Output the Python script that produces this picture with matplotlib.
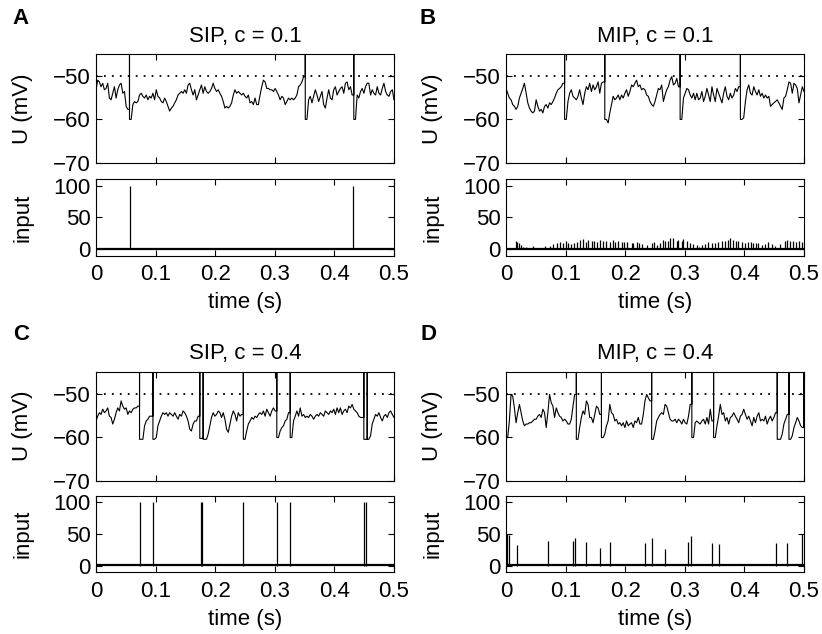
import numpy as np
import matplotlib.pyplot as plt

plt.rcParams['font.family'] = ['Liberation Sans', 'DejaVu Sans']
plt.rcParams['font.size'] = 16

SPIKE = 100  # marks a spike sample (clipped by the axis)

# membrane potential U (mV), evenly sampled over 0 - 0.5 s
u_sip_01 = [
    -53.2, -51.0, -51.4, -52.5, -51.7, -53.2, -52.9, -51.7, -55.1, -55.5,
    -54.0, -52.5, -55.1, -53.2, -52.1, -51.7, -54.0, -53.6, -57.0, -57.7,
    100, -60.0, -56.6, -55.9, -56.2, -55.9, -54.4, -54.0, -54.7, -55.1,
    -54.4, -55.5, -54.7, -55.1, -54.0, -55.5, -53.2, -54.7, -55.1, -55.9,
    -56.2, -55.1, -55.9, -57.0, -58.1, -57.4, -57.0, -56.2, -55.5, -54.4,
    -54.0, -53.6, -54.0, -53.2, -54.0, -52.1, -51.7, -53.2, -54.4, -53.2,
    -55.5, -54.4, -53.2, -52.1, -54.0, -52.5, -53.6, -54.0, -53.6, -52.9,
    -51.7, -52.9, -53.6, -53.2, -54.0, -54.7, -55.9, -57.4, -57.0, -57.4,
    -57.0, -56.2, -54.4, -53.2, -54.0, -53.6, -54.0, -54.4, -54.0, -54.7,
    -55.1, -54.4, -56.2, -55.9, -56.6, -55.1, -56.6, -56.6, -54.4, -52.5,
    -51.0, -51.4, -52.9, -52.9, -53.2, -53.2, -53.6, -52.9, -53.6, -54.4,
    -55.5, -54.7, -55.1, -56.6, -55.9, -55.1, -55.5, -55.1, -55.5, -55.1,
    -54.4, -52.5, -52.1, -51.4, -50.2, 100, -60.0, -55.5, -54.7, -56.2,
    -54.7, -53.2, -54.4, -55.9, -54.7, -53.6, -56.6, -57.4, -55.1, -53.2,
    -55.1, -55.5, -53.2, -52.5, -54.4, -53.6, -52.9, -52.5, -54.0, -51.7,
    -51.4, -53.2, -52.5, -54.4, 100, -60.0, -54.4, -55.1, -53.6, -52.9,
    -54.0, -52.5, -51.7, -51.7, -54.4, -53.2, -54.0, -54.4, -52.5, -54.0,
    -54.4, -52.9, -51.7, -53.6, -54.4, -54.7, -53.6, -53.2, -55.5,
]

u_mip_01 = [
    -52.9, -54.0, -55.1, -55.5, -56.6, -57.0, -57.7, -57.0, -55.1, -54.0,
    -52.9, -51.7, -54.0, -56.2, -57.4, -58.1, -58.5, -58.1, -55.5, -57.0,
    -58.1, -57.7, -58.5, -57.0, -56.6, -57.4, -56.2, -56.6, -55.9, -55.1,
    -54.0, -53.2, -52.9, -52.5, -51.7, 100, -60.0, -55.9, -54.0, -53.2,
    -54.7, -55.1, -55.5, -54.7, -53.2, -55.1, -56.6, -54.0, -52.5, -53.2,
    -51.7, -53.6, -52.1, -53.2, -52.5, -51.4, -54.0, -51.7, -51.4, 100,
    -60.0, -60.8, -58.5, -56.6, -54.7, -55.5, -55.1, -54.4, -55.5, -54.4,
    -55.1, -54.0, -53.2, -54.7, -53.6, -52.1, -52.5, -51.7, -51.0, -52.5,
    -52.1, -53.2, -52.9, -53.2, -54.4, -54.7, -55.9, -56.6, -57.0, -55.9,
    -54.4, -52.9, -53.2, -52.1, -55.9, -54.4, -53.2, -52.5, -51.0, -50.2,
    -52.1, -51.7, -50.6, -52.5, 100, -60.0, -55.1, -54.0, -52.9, -53.2,
    -54.4, -55.1, -54.0, -55.5, -54.0, -55.5, -55.1, -53.6, -55.9, -54.7,
    -52.9, -54.4, -55.9, -52.5, -54.4, -55.9, -52.9, -54.0, -55.1, -56.2,
    -54.0, -52.5, -54.7, -55.5, -54.0, -55.1, -54.4, -52.9, -53.6, -52.5,
    100, -60.0, -59.6, -55.9, -53.2, -52.1, -54.0, -54.4, -52.5, -53.6,
    -54.4, -53.2, -54.7, -54.0, -55.1, -54.4, -55.1, -54.7, -57.0, -56.6,
    -56.2, -55.9, -55.5, -56.2, -57.0, -57.7, -55.1, -54.7, -53.2, -51.4,
    -51.7, -54.0, -51.7, -52.1, -52.9, -56.2, -54.4, -52.5, -53.6,
]

u_sip_04 = [
    -56.3, -55.2, -54.4, -54.8, -53.6, -54.4, -54.0, -53.3, -55.2, -55.5,
    -57.0, -55.9, -54.4, -53.3, -54.0, -51.7, -52.9, -53.6, -53.3, -54.8,
    -54.0, -54.4, -53.6, -53.3, -53.3, -52.9, 100, -60.5, -60.5, -57.4,
    -56.3, -55.9, -55.2, -55.2, 100, -60.5, -60.1, -57.4, -56.3, -55.2,
    -54.4, -54.8, -54.4, -55.2, -54.4, -54.8, -55.2, -54.4, -55.2, -55.9,
    -54.8, -55.2, -54.0, -54.4, -55.2, -56.3, -58.2, -58.6, -57.0, -56.3,
    -56.3, -55.2, 100, -60.3, 100, -60.5, -60.5, -59.3, -57.4, -55.5,
    -54.4, -55.2, -54.8, -54.0, -54.4, -55.5, -54.4, -55.9, -58.2, -58.9,
    -57.0, -55.2, -54.0, -54.8, -56.3, -54.4, -55.2, -54.8, 100, -60.5,
    -58.6, -57.0, -56.3, -55.5, -55.9, -55.2, -55.5, -54.8, -54.4, -54.8,
    -54.0, -55.2, -53.6, -54.4, -55.2, -54.0, -53.3, -54.0, 100, -60.1,
    -58.6, -57.8, -57.4, -56.3, -55.9, -54.4, 100, -60.1, -56.3, -55.2,
    -54.0, -55.2, -53.3, -55.2, -54.8, -55.5, -55.2, -55.5, -54.8, -55.2,
    -55.9, -55.2, -54.8, -55.2, -54.4, -54.8, -55.2, -54.0, -54.4, -54.8,
    -54.0, -54.4, -53.6, -54.8, -53.3, -54.4, -53.3, -54.8, -54.0, -53.6,
    -54.4, -52.9, -53.3, -52.5, -53.6, -54.0, -54.4, -55.2, -55.5, -55.5,
    100, -60.5, 100, -60.5, -59.7, -57.0, -55.9, -54.8, -55.2, -54.4,
    -55.5, -56.3, -55.2, -54.8, -55.5, -54.4, -54.0, -54.8, -55.5,
]

u_mip_04 = [
    100, -60.1, -56.3, -50.2, -50.6, -53.3, -56.7, -54.4, -52.5, -54.4,
    -56.3, -57.4, -57.0, -57.0, -56.7, -56.7, -56.3, -55.9, -55.9, -55.2,
    -54.8, -55.5, -53.6, -54.4, -57.8, -54.4, -50.2, -52.1, -52.9, -55.5,
    -53.3, -54.4, -55.2, -55.5, -56.3, -55.9, -56.3, -57.0, -57.0, -55.9,
    -52.9, -50.2, 100, -60.5, -57.8, -55.5, -54.0, -54.8, -51.7, -52.5,
    -55.5, -55.5, -56.7, -54.8, -52.9, -53.3, -54.8, 100, -60.1, -59.3,
    -57.4, -56.3, -52.5, -54.4, -54.8, -56.3, -55.9, -57.0, -56.7, -57.4,
    -56.7, -57.8, -56.3, -57.4, -57.0, -56.7, -57.8, -56.3, -56.7, -55.5,
    -57.0, -57.0, -54.8, -51.7, -50.2, -51.0, -51.7, 100, -60.5, -58.6,
    -56.3, -55.5, -54.8, -54.4, -54.8, -52.5, -52.9, -54.4, -55.9, -56.3,
    -56.3, -55.9, -56.7, -55.9, -56.3, -57.0, -55.9, -56.7, -57.0, -55.2,
    -52.5, 100, -60.1, -56.7, -56.3, -56.7, -57.0, -56.3, -55.9, -57.0,
    -55.5, -57.0, -53.6, -56.3, 100, -60.1, -57.4, -55.2, -52.5, -54.8,
    -54.4, -56.3, -55.5, -57.0, -55.5, -55.2, -54.4, -55.2, -55.9, -56.7,
    -55.2, -54.8, -53.6, -54.8, -55.9, -55.2, -56.3, -57.4, -55.5, -56.7,
    -55.2, -54.4, -56.3, -55.9, -56.3, -55.2, -57.0, -55.9, -55.2, -56.3,
    -55.5, -54.4, 100, -60.5, -60.5, -59.3, -57.0, -55.9, -54.8, 100,
    -60.5, -59.7, -57.8, -56.7, -55.5, -56.3, -57.4, -57.8, 100,
]

threshold = -50

# input events: time (s) and size
in_t_sip_01 = [0.057, 0.4306]
in_h_sip_01 = [100, 100]

in_t_mip_01 = [
    0.0168, 0.0190, 0.0213, 0.0246, 0.0280, 0.0336, 0.0459, 0.0654, 0.0738, 0.0794,
    0.0861, 0.0906, 0.0951, 0.1007, 0.1046, 0.1085, 0.1141, 0.1186, 0.1242, 0.1298,
    0.1342, 0.1382, 0.1437, 0.1482, 0.1532, 0.1577, 0.1622, 0.1678, 0.1745, 0.1790,
    0.1829, 0.1885, 0.1941, 0.1980, 0.2025, 0.2109, 0.2137, 0.2193, 0.2237, 0.2276,
    0.2360, 0.2444, 0.2483, 0.2528, 0.2584, 0.2629, 0.2668, 0.2713, 0.2752, 0.2808,
    0.2864, 0.2892, 0.2947, 0.2975, 0.3031, 0.3087, 0.3143, 0.3199, 0.3238, 0.3283,
    0.3339, 0.3395, 0.3451, 0.3507, 0.3563, 0.3619, 0.3675, 0.3719, 0.3758, 0.3814,
    0.3859, 0.3898, 0.3954, 0.4010, 0.4066, 0.4105, 0.4150, 0.4195, 0.4234, 0.4290,
    0.4346, 0.4402, 0.4457, 0.4513, 0.4597, 0.4681, 0.4720, 0.4765, 0.4821, 0.4866,
    0.4922, 0.4961,
]
in_h_mip_01 = [
    13, 12, 10.5, 6.8, 4.2, 3.1, 5.2, 5.2, 5.2, 8.4,
    9.4, 12, 10.5, 13.6, 9.4, 8.4, 10.5, 12, 14.7, 15.7,
    12, 14.7, 13.6, 13.6, 12, 14.7, 13.6, 13, 12, 14.7,
    12, 13, 12, 12, 12, 10.5, 10.5, 12, 10.5, 8.4,
    6.8, 9.4, 12, 6.8, 9.4, 14.7, 13.6, 13.6, 17.3, 17.3,
    13, 14.7, 13.6, 15.7, 13.6, 9.4, 8.4, 6.8, 4.2, 6.8,
    8.4, 12, 10.5, 10.5, 12, 13.6, 13.6, 14.7, 17.3, 14.7,
    13.6, 13.6, 12, 10.5, 12, 12, 10.5, 9.4, 9.4, 6.8,
    8.4, 12, 8.4, 5.2, 8.4, 13.6, 14.7, 13.6, 13.6, 12,
    13.6, 12,
]

in_t_sip_04 = [0.0738, 0.0951, 0.1756, 0.1779, 0.2461, 0.3031, 0.3255, 0.4497, 0.4530]
in_h_sip_04 = [100, 100, 100, 100, 100, 100, 100, 100, 100]

in_t_mip_04 = [0.0011, 0.0056, 0.0179, 0.0710, 0.1119, 0.1158, 0.1342, 0.1577, 0.1745, 0.2332,
               0.2444, 0.2668, 0.3059, 0.3098, 0.3456, 0.3568, 0.4530, 0.4709, 0.4966]
in_h_mip_04 = [50, 49, 33, 40, 40, 43.5, 38, 28.5, 37.6, 35.5,
               43.5, 27, 38, 47, 35.5, 34, 35.5, 35.5, 50]

input_baseline = 1

panels = [
    ('A', 'SIP, c = 0.1', u_sip_01, in_t_sip_01, in_h_sip_01, 0, 0),
    ('B', 'MIP, c = 0.1', u_mip_01, in_t_mip_01, in_h_mip_01, 1, 0),
    ('C', 'SIP, c = 0.4', u_sip_04, in_t_sip_04, in_h_sip_04, 0, 1),
    ('D', 'MIP, c = 0.4', u_mip_04, in_t_mip_04, in_h_mip_04, 1, 1),
]

lefts = [0.1168, 0.6156]
u_bottoms = [0.7429, 0.2418]
in_bottoms = [0.5967, 0.0972]
letter_x = [0.0255, 0.5207]
letter_y = [0.9711, 0.472]
w = 0.3625


def trace_xy(u):
    # spikes drawn as a vertical stroke: up from the previous value, down to the reset
    t = np.linspace(0, 0.5, len(u))
    xs, ys = [], []
    for i, v in enumerate(u):
        if v == SPIKE:
            nxt = u[i + 1] if i + 1 < len(u) else u[i - 1]
            prev = u[i - 1] if i > 0 else nxt
            xs += [t[i], t[i], t[i]]
            ys += [prev, v, nxt]
        else:
            xs.append(t[i])
            ys.append(v)
    return xs, ys


fig = plt.figure(figsize=(8.22, 6.34), dpi=100)

for letter, title, u, in_t, in_h, col, row in panels:
    ax = fig.add_axes([lefts[col], u_bottoms[row], w, 0.1719])
    xs, ys = trace_xy(u)
    ax.plot(xs, ys, color='k', lw=0.8)
    ax.axhline(threshold, color='k', lw=1.3, ls=(0, (1, 3.4)))
    ax.set_xlim(0, 0.5)
    ax.set_ylim(-70, -45)
    ax.set_xticks([0.1, 0.3, 0.5])
    ax.set_xticklabels([])
    ax.set_yticks([-70, -60, -50])
    ax.set_ylabel('U (mV)')
    ax.yaxis.set_label_coords(-0.211, 0.5)
    ax.set_title(title, fontsize=16, pad=9)
    ax.tick_params(direction='in', top=True, right=True, length=4, labelsize=16, pad=4)

    ax2 = fig.add_axes([lefts[col], in_bottoms[row], w, 0.1205])
    ax2.vlines(in_t, 0, in_h, color='k', lw=0.9)
    ax2.axhline(input_baseline, color='k', lw=1.6)
    ax2.set_xlim(0, 0.5)
    ax2.set_ylim(-10, 110)
    ax2.set_xticks([0, 0.1, 0.2, 0.3, 0.4, 0.5])
    ax2.set_xticklabels(['0', '0.1', '0.2', '0.3', '0.4', '0.5'])
    ax2.set_yticks([0, 50, 100])
    ax2.set_ylabel('input')
    ax2.yaxis.set_label_coords(-0.211, 0.5)
    ax2.set_xlabel('time (s)', labelpad=5)
    ax2.tick_params(direction='in', top=True, right=True, length=4, labelsize=16, pad=4)
    ax2.tick_params(axis='x', pad=6)

    fig.text(letter_x[col], letter_y[row], letter, fontsize=16, fontweight='bold',
             ha='center', va='center')

fig.savefig('out.png', dpi=100)
